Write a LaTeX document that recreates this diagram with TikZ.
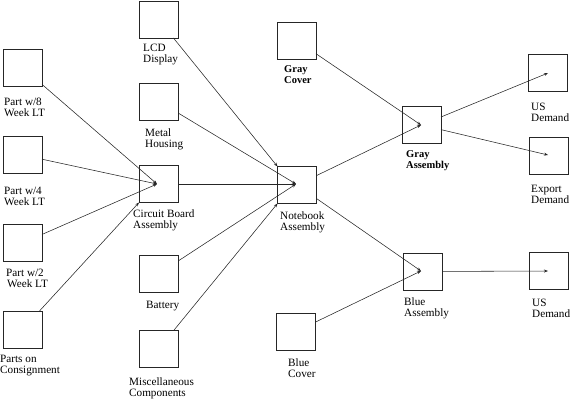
\documentclass[tikz,border=0pt]{standalone}
\usepackage{fontspec}
\setmainfont{Liberation Serif}
\usetikzlibrary{arrows.meta}
\begin{document}
\begin{tikzpicture}[x=1pt,y=-1pt,
  box/.style={draw=black!85,line width=0.7pt,minimum width=39pt,minimum height=37pt,inner sep=0pt,outer sep=0pt},
  lbl/.style={anchor=base west,align=left,inner sep=0pt,font=\fontsize{11.2}{10.5}\selectfont},
  blbl/.style={lbl,font=\fontsize{10.5}{11}\selectfont\bfseries},
  arr/.style={draw=black!85,line width=0.55pt,-{Stealth[length=4pt,width=3pt]}}]
\useasboundingbox (0,0) rectangle (572,400);
% boxes
\node[box] (p8) at (22.5,67.5) {};
\node[box] (p4) at (22.5,155) {};
\node[box] (p2) at (22.5,243) {};
\node[box] (pc) at (22.5,329.5) {};
\node[box] (lcd) at (158.5,19.5) {};
\node[box] (mh) at (159,101.5) {};
\node[box] (cb) at (158.5,184) {};
\node[box] (bat) at (159,273.5) {};
\node[box] (misc) at (159,348.5) {};
\node[box] (gc) at (296.5,40.5) {};
\node[box] (nb) at (297,185) {};
\node[box] (bc) at (296,331.5) {};
\node[box] (ga) at (421.5,125) {};
\node[box] (ba) at (422.5,271.5) {};
\node[box] (us1) at (547.5,73) {};
\node[box] (ex) at (548.5,155.5) {};
\node[box] (us2) at (548.5,270.5) {};
% arrow targets
\coordinate (cbt) at (157,184);
\coordinate (nbt) at (296,184);
\coordinate (gat) at (421,125);
\coordinate (bat-t) at (421,271);
\coordinate (us1t) at (548,73);
\coordinate (ext) at (548,155);
\coordinate (us2t) at (548,271);
% labels (anchor = baseline of last line)
\node[lbl] (l-p8) at (4,116) {Part w/8\\Week LT};
\node[lbl] (l-p4) at (4,205) {Part w/4\\Week LT};
\node[lbl] (l-p2) at (6,287) {Part w/2\\\hspace*{1pt}Week LT};
\node[lbl] (l-pc) at (0,373) {Parts on\\Consignment};
\node[lbl] (l-lcd) at (143,62) {LCD\\Display};
\node[lbl] (l-mh) at (145,147) {Metal\\Housing};
\node[lbl] (l-cb) at (133,228) {Circuit Board\\Assembly};
\node[lbl] (l-bat) at (146,308) {Battery};
\node[lbl] (l-misc) at (129,396) {Miscellaneous\\Components};
\node[blbl] (l-gc) at (284,83) {Gray\\Cover};
\node[lbl] (l-nb) at (280,230) {Notebook\\Assembly};
\node[lbl] (l-bc) at (288,377) {Blue\\Cover};
\node[blbl] (l-ga) at (406,168) {Gray\\Assembly};
\node[lbl] (l-ba) at (404,316) {Blue\\Assembly};
\node[lbl] (l-us1) at (531,121) {US\\Demand};
\node[lbl] (l-ex) at (531,203) {Export\\Demand};
\node[lbl] (l-us2) at (532,317) {US\\Demand};
% connectors
\draw[arr] (p8) -- (cbt);
\draw[arr] (p4) -- (cbt);
\draw[arr] (p2) -- (cbt);
\draw[arr] (pc) -- (cb.south west);
\draw[arr] (lcd) -- (nb.north west);
\draw[arr] (mh) -- (nbt);
\draw[arr] (cb) -- (nbt);
\draw[arr] (bat) -- (nbt);
\draw[arr] (misc) -- (nb.south west);
\draw[arr] (gc) -- (gat);
\draw[arr] (nb) -- (gat);
\draw[arr] (nb) -- (bat-t);
\draw[arr] (bc) -- (bat-t);
\draw[arr] (ga) -- (us1t);
\draw[arr] (ga) -- (ext);
\draw[arr] (ba) -- (us2t);
\end{tikzpicture}
\end{document}
